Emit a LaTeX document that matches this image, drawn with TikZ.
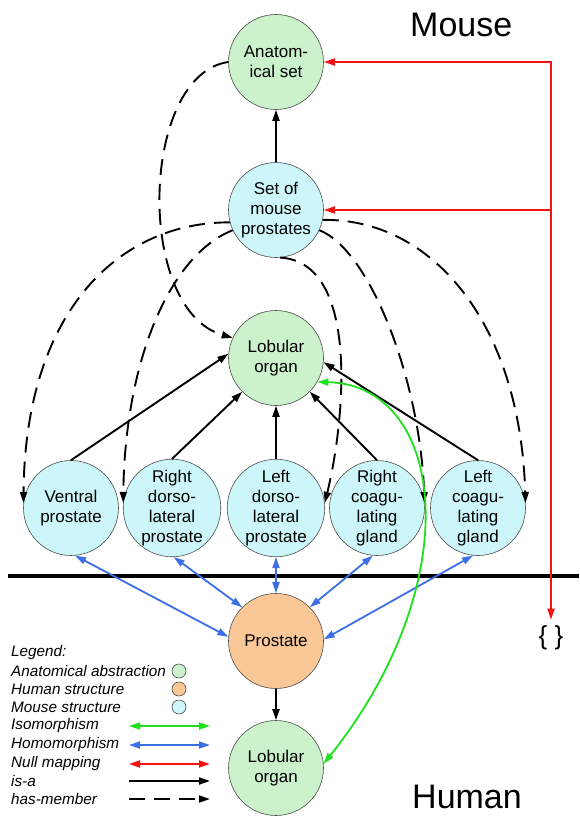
\documentclass[tikz,border=0pt]{standalone}
\usepackage{fontspec}
\setmainfont{Liberation Sans}
\usetikzlibrary{arrows.meta}

\definecolor{abstrfill}{RGB}{204,242,204}
\definecolor{mousefill}{RGB}{204,246,250}
\definecolor{humanfill}{RGB}{250,200,150}
\definecolor{homoblue}{RGB}{60,110,230}
\definecolor{isogreen}{RGB}{30,225,30}
\definecolor{nullred}{RGB}{240,20,20}

\begin{document}
\begin{tikzpicture}[x=1pt, y=-1pt, >={Triangle[length=11pt,width=7pt]},
  organ/.style={circle, draw=black!70, line width=0.6pt, minimum size=95pt, inner sep=0pt,
    align=center, font=\fontsize{17}{20}\selectfont},
  abstr/.style={organ, fill=abstrfill},
  mouse/.style={organ, fill=mousefill},
  human/.style={organ, fill=humanfill},
  isa/.style={line width=1.9pt, ->},
  member/.style={isa, dash pattern=on 16pt off 9pt},
  homo/.style={line width=1.8pt, homoblue, <->},
  iso/.style={line width=1.8pt, isogreen, <->},
  nullline/.style={line width=1.8pt, nullred},
  nullmap/.style={nullline, <->},
  legend/.style={anchor=west, inner sep=0pt, font=\fontsize{15.3}{18}\selectfont\itshape},
  dot/.style={circle, draw=black!70, line width=0.6pt, minimum size=14pt, inner sep=0pt},
  title/.style={anchor=base west, inner sep=0pt, font=\fontsize{34}{40}\selectfont}]
  \useasboundingbox (0,0) rectangle (579,816);

  % Titles
  \node[title] (mouselbl) at (410,37) {Mouse};
  \node[title] (humanlbl) at (412,808) {Human};

  % Mouse side
  \node[abstr] (anat) at (276,62) {Anatom-\\ical set};
  \node[mouse] (set) at (276,210) {Set of\\mouse\\prostates};
  \node[abstr] (lobm) at (276,358) {Lobular\\organ};
  \node[mouse] (ventral) at (71,508) {Ventral\\prostate};
  \node[mouse] (rdl) at (172,508) {Right\\dorso-\\lateral\\prostate};
  \node[mouse] (ldl) at (276,508) {Left\\dorso-\\lateral\\prostate};
  \node[mouse] (rcg) at (377,508) {Right\\coagu-\\lating\\gland};
  \node[mouse] (lcg) at (478,508) {Left\\coagu-\\lating\\gland};

  % Divider between mouse and human
  \draw[line width=3.5pt] (8,576) -- (579,576);

  % Human side
  \node[human] (prost) at (276,641) {Prostate};
  \node[abstr] (lobh) at (276,768) {Lobular\\organ};

  % Empty set
  \node[inner sep=6pt, font=\fontsize{26}{30}\selectfont] (empty) at (551,638) {\{ \}};

  % is-a
  \draw[isa] (set) -- (anat);
  \draw[isa] (prost) -- (lobh);
  \draw[isa] (ventral.north) -- (lobm.175);
  \draw[isa] (rdl.north) -- (lobm.225);
  \draw[isa] (ldl) -- (lobm);
  \draw[isa] (rcg.north) -- (lobm.-45);
  \draw[isa] (lcg.north) -- (lobm.-5);

  % has-member
  \draw[member] (anat.west) .. controls (140,75) and (135,310) .. (lobm.155);
  \draw[member] (set.195) .. controls (120,222) and (25,310) .. (ventral.174);
  \draw[member] (set.205) .. controls (170,255) and (125,360) .. (rdl.174);
  \draw[member] (set.275) .. controls (360,262) and (345,420) .. (ldl.6);
  \draw[member] (set.335) .. controls (370,250) and (420,380) .. (rcg.6);
  \draw[member] (set.-12) .. controls (430,218) and (520,320) .. (lcg.6);

  % Homomorphisms
  \draw[homo] (ventral.-85) -- (prost.175);
  \draw[homo] (rdl.-88) -- (prost.135);
  \draw[homo] (ldl) -- (prost);
  \draw[homo] (rcg.-95) -- (prost.45);
  \draw[homo] (lcg.-96) -- (prost.2);

  % Isomorphism
  \draw[iso] (lobm.-30) .. controls (445,385) and (470,580) .. (lobh.5);

  % Null mappings
  \draw[nullmap] (anat.east) -- (anat.east -| empty) -- (empty);
  \draw[nullline, ->] (set.east -| empty) -- (set.east);

  % Legend
  \node[legend] (lgtitle) at (11,653) {Legend:};
  \node[legend] (lgabstr) at (11,671) {Anatomical abstraction};
  \node[legend] (lghuman) at (11,689) {Human structure};
  \node[legend] (lgmouse) at (11,707) {Mouse structure};
  \node[legend] (lgiso) at (11,726) {Isomorphism};
  \node[legend] (lghomo) at (11,745) {Homomorphism};
  \node[legend] (lgnull) at (11,764) {Null mapping};
  \node[legend] (lgisa) at (11,781) {is-a};
  \node[legend] (lgmember) at (11,799) {has-member};
  \node[dot, fill=abstrfill] (dotabstr) at (179,671) {};
  \node[dot, fill=humanfill] (dothuman) at (179,689) {};
  \node[dot, fill=mousefill] (dotmouse) at (179,707) {};
  \foreach \sty/\yy in {iso/726, homo/745, nullmap/764, isa/781, member/799} {
    \coordinate (\sty-a) at (129,\yy);
    \coordinate (\sty-b) at (210,\yy);
    \draw[\sty] (\sty-a) -- (\sty-b);
  }
\end{tikzpicture}
\end{document}
